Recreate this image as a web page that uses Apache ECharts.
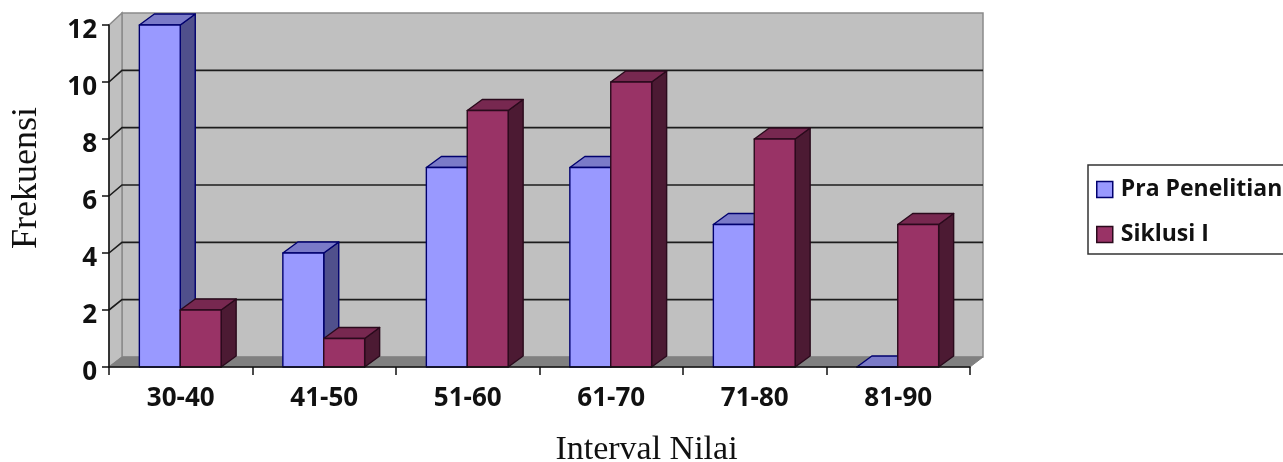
<!DOCTYPE html>
<html>
<head>
<meta charset="utf-8">
<style>html,body{margin:0;padding:0;background:#fff}#c{width:1283px;height:462px}</style>
<script src="https://cdn.jsdelivr.net/npm/echarts@6/dist/echarts.min.js"></script>
</head>
<body>
<div id="c"></div>
<script>
const categories = ['30-40','41-50','51-60','61-70','71-80','81-90'];
const praPenelitian = [12,4,7,7,5,0];
const siklusI = [2,1,9,10,8,5];
const yTicks = [0,2,4,6,8,10,12];
const legendNames = ['Pra Penelitian','Siklusi I'];
const xTitle = 'Interval Nilai';
const yTitle = 'Frekuensi';

const WALL_DX = 13, BAR_DX = 15, BAR_DY = 11;
const wallDy = v => 10 + v / 6;

function renderWalls(params, api) {
  const g = params.coordSys;
  const l = g.x, r = g.x + g.width;
  const y0 = api.coord([0, 0])[1], yTop = api.coord([0, 12])[1];
  const back = v => api.coord([0, v])[1] - wallDy(v);
  const children = [
    {type:'polygon', shape:{points:[[l+WALL_DX,back(12)],[r+WALL_DX,back(12)],[r+WALL_DX,back(0)],[l+WALL_DX,back(0)]]},
      style:{fill:'#c0c0c0', stroke:'#8a8a8a', lineWidth:1.5}},
    {type:'polygon', shape:{points:[[l,yTop],[l+WALL_DX,back(12)],[l+WALL_DX,back(0)],[l,y0]]},
      style:{fill:'#c0c0c0', stroke:'#8a8a8a', lineWidth:1.5}},
    {type:'polygon', shape:{points:[[l,y0],[l+WALL_DX,back(0)],[r+WALL_DX,back(0)],[r,y0]]},
      style:{fill:'#808080', stroke:'#808080', lineWidth:1}}
  ];
  yTicks.forEach(v => {
    if (v === 0 || v === 12) return;
    const y = api.coord([0, v])[1];
    children.push({type:'polyline', shape:{points:[[l,y],[l+WALL_DX,back(v)],[r+WALL_DX,back(v)]]},
      style:{fill:null, stroke:'#1c1c1c', lineWidth:1.6}});
  });
  return {type:'group', children};
}

function barRenderer(side, colors) {
  return function (params, api) {
    const pt = api.coord([api.value(0), api.value(1)]);
    const base = api.coord([api.value(0), 0]);
    const w = api.size([1, 0])[0] * 0.285;
    const x1 = (side < 0 ? pt[0] - w : pt[0]) - 0.5;
    const x2 = x1 + w;
    const yt = pt[1], yb = base[1];
    const st = {stroke: colors.edge, lineWidth: 1.4, lineJoin:'round'};
    const poly = (pts, fill) => ({type:'polygon', shape:{points:pts}, style:Object.assign({fill}, st)});
    return {type:'group', children:[
      poly([[x2,yt],[x2+BAR_DX,yt-BAR_DY],[x2+BAR_DX,yb-BAR_DY],[x2,yb]], colors.side),
      poly([[x1,yt],[x1+BAR_DX,yt-BAR_DY],[x2+BAR_DX,yt-BAR_DY],[x2,yt]], colors.top),
      poly([[x1,yt],[x2,yt],[x2,yb],[x1,yb]], colors.front)
    ]};
  };
}
const blue = {front:'#9999ff', top:'#7a7ac8', side:'#50508c', edge:'#00006e'};
const red = {front:'#993366', top:'#772850', side:'#4c1a33', edge:'#2a0a1c'};

const chart = echarts.init(document.getElementById('c'), null, {renderer:'canvas'});
chart.setOption({
  animation:false,
  backgroundColor:'#ffffff',
  grid:{left:109, top:25, width:861, height:342, containLabel:false, outerBoundsMode:'none'},
  legend:{
    orient:'vertical', left:1088, top:165, width:260,
    padding:[13,120,8,8], itemWidth:16, itemHeight:16, itemGap:22,
    backgroundColor:'#fff', borderColor:'#333', borderWidth:1.5, borderRadius:0,
    selectedMode:false,
    textStyle:{fontFamily:'Open Sans', fontWeight:'bold', fontSize:23, color:'#111', padding:[0,0,0,3]},
    data:[
      {name:legendNames[0], icon:'rect', itemStyle:{color:blue.front, borderColor:blue.edge, borderWidth:1.5}},
      {name:legendNames[1], icon:'rect', itemStyle:{color:red.front, borderColor:red.edge, borderWidth:1.5}}
    ]
  },
  xAxis:{
    type:'category', data:categories, z:5,
    name:xTitle, nameLocation:'middle', nameGap:66,
    nameTextStyle:{fontFamily:'Liberation Serif', fontSize:34, color:'#111', padding:[0,0,0,214]},
    axisLine:{show:true, lineStyle:{color:'#111', width:1.5}},
    axisTick:{show:true, alignWithLabel:false, length:8, lineStyle:{color:'#111', width:1.5}},
    axisLabel:{fontFamily:'Open Sans', fontWeight:'bold', fontSize:26, color:'#111', margin:19},
    splitLine:{show:false}
  },
  yAxis:{
    type:'value', min:0, max:12, interval:2, z:5,
    name:yTitle, nameLocation:'middle', nameGap:64, nameRotate:90,
    nameTextStyle:{fontFamily:'Liberation Serif', fontSize:36, color:'#111', padding:[0,0,0,36]},
    axisLine:{show:true, lineStyle:{color:'#111', width:1.5}},
    axisTick:{show:true, length:7, lineStyle:{color:'#111', width:1.5}},
    axisLabel:{fontFamily:'Open Sans', fontWeight:'bold', fontSize:26, color:'#111', margin:12, verticalAlign:'top', lineHeight:12},
    splitLine:{show:false}
  },
  series:[
    {type:'custom', z:1, silent:true, renderItem:renderWalls, data:[[0,0]], clip:false},
    {type:'custom', name:legendNames[0], z:2, renderItem:barRenderer(-1, blue), clip:false,
      itemStyle:{color:blue.front}, data:praPenelitian.map((v,i)=>[i,v])},
    {type:'custom', name:legendNames[1], z:3, renderItem:barRenderer(1, red), clip:false,
      itemStyle:{color:red.front}, data:siklusI.map((v,i)=>[i,v])}
  ]
});
</script>
</body>
</html>
